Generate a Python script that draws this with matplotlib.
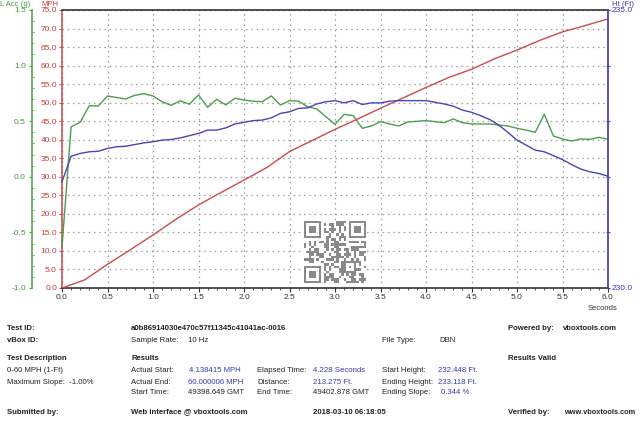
import hashlib
import numpy as np
import matplotlib
matplotlib.use("Agg")
import matplotlib.pyplot as plt
from matplotlib.ticker import MultipleLocator, FixedLocator, FixedFormatter

plt.rcParams['font.family'] = ['Liberation Sans', 'DejaVu Sans']

# ---------------- data ----------------
time_s = [round(0.1 * i, 1) for i in range(61)]

lat_acc_g = [-0.63, 0.45, 0.49, 0.64, 0.637, 0.727, 0.713, 0.70, 0.733, 0.747,
             0.727, 0.675, 0.643, 0.684, 0.652, 0.736, 0.625, 0.697, 0.646, 0.706,
             0.69, 0.68, 0.675, 0.727, 0.646, 0.684, 0.68, 0.63, 0.61, 0.54,
             0.472, 0.562, 0.55, 0.436, 0.457, 0.496, 0.475, 0.457, 0.493, 0.499,
             0.505, 0.496, 0.487, 0.52, 0.487, 0.475, 0.475, 0.475, 0.466, 0.457,
             0.436, 0.42, 0.40, 0.562, 0.367, 0.34, 0.322, 0.34, 0.337, 0.355,
             0.337]

height_ft = [231.91, 232.37, 232.42, 232.45, 232.46, 232.51, 232.54, 232.55, 232.58, 232.61,
             232.63, 232.66, 232.67, 232.70, 232.74, 232.78, 232.84, 232.84, 232.88, 232.95,
             232.98, 233.01, 233.02, 233.06, 233.14, 233.17, 233.23, 233.24, 233.31, 233.35,
             233.37, 233.33, 233.37, 233.30, 233.33, 233.33, 233.36, 233.37, 233.37, 233.37,
             233.37, 233.34, 233.31, 233.27, 233.20, 233.16, 233.10, 233.03, 232.93, 232.80,
             232.66, 232.57, 232.48, 232.45, 232.38, 232.31, 232.22, 232.14, 232.09, 232.06,
             232.01]

speed_time_s = [0.0, 0.25, 0.5, 0.75, 1.0, 1.25, 1.5, 1.75, 2.0, 2.25, 2.5, 2.75, 3.0,
                3.25, 3.5, 3.75, 4.0, 4.25, 4.5, 4.75, 5.0, 5.25, 5.5, 5.75, 6.0]
speed_mph = [0.0, 2.2, 6.4, 10.3, 14.3, 18.5, 22.4, 25.8, 29.1, 32.5, 36.8, 39.8, 42.8,
             45.6, 48.5, 51.3, 54.1, 56.8, 59.0, 61.8, 64.2, 66.8, 69.1, 70.8, 72.6]

x_ticks = [0.0, 0.5, 1.0, 1.5, 2.0, 2.5, 3.0, 3.5, 4.0, 4.5, 5.0, 5.5, 6.0]
mph_ticks = [0, 5, 10, 15, 20, 25, 30, 35, 40, 45, 50, 55, 60, 65, 70, 75]
acc_ticks = [-1.0, -0.5, 0.0, 0.5, 1.0, 1.5]
ht_ticks = [230, 231, 232, 233, 234, 235]
ht_labels = ['230.0', '', '', '', '', '235.0']

# ---------------- style ----------------
GREEN = '#4b9e4b'
GREEN_T = '#3f9a3f'
RED = '#cc4c4c'
RED_T = '#cc3a3a'
BLUE = '#4646b4'
BLUE_T = '#3b3bb0'
GRID = '#9a9a9a'
W, H = 640, 422
PT = 0.72  # points per pixel at 100 dpi

fig = plt.figure(figsize=(W / 100, H / 100), dpi=100)
fig.patch.set_facecolor('white')

def fx(x):
    return x / W

def fy(y):
    return 1 - y / H

L, R, T, B = 62, 608, 10, 288
ax = fig.add_axes([fx(L), fy(B), (R - L) / W, (B - T) / H])
ax.set_xlim(0, 6)
ax.set_ylim(0, 75)
ax.set_facecolor('none')

# grid
ax.xaxis.set_major_locator(FixedLocator(x_ticks))
ax.xaxis.set_minor_locator(MultipleLocator(0.1))
ax.yaxis.set_major_locator(FixedLocator(mph_ticks))
ax.yaxis.set_minor_locator(MultipleLocator(1))
ax.grid(True, which='major', color=GRID, linestyle=(0, (1.2, 3.0)), linewidth=0.9)
ax.set_xticklabels([f'{v:.1f}' for v in x_ticks])
ax.set_yticklabels([f'{v:.1f}' for v in mph_ticks])
ax.tick_params(axis='x', which='major', length=4 * PT, width=0.8, color='#333333',
               labelsize=6, labelcolor='#333333', pad=2 * PT)
ax.tick_params(axis='x', which='minor', length=2 * PT, width=0.6, color='#333333')
ax.tick_params(axis='y', which='major', length=3 * PT, width=0.8, color=RED,
               labelsize=6, labelcolor=RED_T, pad=2 * PT)
ax.tick_params(axis='y', which='minor', length=1.5 * PT, width=0.6, color=RED)
for s in ['top', 'bottom']:
    ax.spines[s].set_color('#222222')
    ax.spines[s].set_linewidth(1.1)
ax.spines['left'].set_color(RED)
ax.spines['left'].set_linestyle((0, (1, 1)))
ax.spines['left'].set_linewidth(1.1)
ax.spines['right'].set_visible(False)

# green lateral acceleration axis
axg = ax.twinx()
axg.set_ylim(-1.0, 1.5)
axg.yaxis.set_ticks_position('left')
axg.spines['left'].set_position(('outward', 30 * PT))
axg.spines['left'].set_visible(True)
axg.spines['left'].set_color(GREEN)
axg.spines['left'].set_linewidth(1.1)
for s in ['top', 'bottom', 'right']:
    axg.spines[s].set_visible(False)
axg.yaxis.set_major_locator(FixedLocator(acc_ticks))
axg.yaxis.set_minor_locator(MultipleLocator(0.1))
axg.set_yticklabels([f'{v:.1f}' for v in acc_ticks])
axg.tick_params(axis='y', which='major', length=3 * PT, width=0.8, color=GREEN,
                labelsize=6, labelcolor=GREEN_T, pad=3 * PT)
axg.tick_params(axis='y', which='minor', length=2 * PT, width=0.6, color=GREEN, direction='in')

# blue height axis
axh = ax.twinx()
axh.set_ylim(230, 235)
for s in ['top', 'bottom', 'left']:
    axh.spines[s].set_visible(False)
axh.spines['right'].set_color(BLUE)
axh.spines['right'].set_linewidth(1.3)
axh.yaxis.set_major_locator(FixedLocator(ht_ticks))
axh.yaxis.set_major_formatter(FixedFormatter(ht_labels))
axh.tick_params(axis='y', which='major', length=4 * PT, width=0.8, color=BLUE,
                labelsize=6, labelcolor=BLUE_T, pad=2 * PT, direction='inout')

# lines
axh.plot(time_s, height_ft, color=BLUE, linewidth=1.0, clip_on=False)
axg.plot(time_s, lat_acc_g, color=GREEN, linewidth=1.0, clip_on=False)
axg.plot(speed_time_s, [(v / 75) * 2.5 - 1.0 for v in speed_mph], color=RED, linewidth=1.0)

# axis titles
fig.text(fx(0.5), fy(4), 'L Acc (g)', color=GREEN_T, fontsize=5.5, ha='left', va='center')
fig.text(fx(58), fy(4), 'MPH', color=RED_T, fontsize=5.5, ha='right', va='center')
fig.text(fx(612), fy(4), 'Ht (Ft)', color=BLUE_T, fontsize=5.5, ha='left', va='center')
fig.text(fx(588), fy(308), 'Seconds', color='#333333', fontsize=5.5, ha='left', va='center')

# QR-like mark
n = 25
qr = np.zeros((n, n), dtype=int)
bits = ''.join(f'{b:08b}' for b in hashlib.sha256(b'a0b86914030e470c57f11345c41041ac-0016').digest() * 3)
k = 0
for i in range(n):
    for j in range(n):
        qr[i, j] = int(bits[k % len(bits)])
        k += 1
def finder(r, c):
    qr[r:r + 7, c:c + 7] = 1
    qr[r + 1:r + 6, c + 1:c + 6] = 0
    qr[r + 2:r + 5, c + 2:c + 5] = 1
for (r, c) in [(0, 0), (0, n - 7), (n - 7, 0)]:
    rr0, cc0 = max(r - 1, 0), max(c - 1, 0)
    qr[rr0:r + 8, cc0:c + 8] = 0
    finder(r, c)
qr[n - 9:n - 4, n - 9:n - 4] = 1
qr[n - 8:n - 5, n - 8:n - 5] = 0
qr[n - 7, n - 7] = 1
qax = fig.add_axes([fx(304), fy(283), 62 / W, 62 / H])
qax.imshow(qr, cmap=matplotlib.colors.ListedColormap(['white', '#8a8a8a']),
           interpolation='nearest')
qax.axis('off')

# ---------------- info table ----------------
FS = 5.6
DARK = '#222222'
INFO_BLUE = '#3a3aaa'

def t(x, y, s, bold=False, color=DARK, fs=FS):
    fig.text(fx(x), fy(y), s, fontsize=fs, color=color, ha='left', va='center',
             fontweight='bold' if bold else 'normal')

t(7, 329, 'Test ID:', True)
t(131, 329, 'a0b86914030e470c57f11345c41041ac-0016', True)
t(508, 329, 'Powered by:', True)
t(563, 329, 'vboxtools.com', True)

t(7, 341, 'vBox ID:', True)
t(131, 341, 'Sample Rate:')
t(188, 341, '10 Hz')
t(382, 341, 'File Type:')
t(439, 341, 'DBN')

t(7, 359, 'Test Description', True)
t(131, 359, 'Results', True)
t(508, 359, 'Results Valid', True)

t(7, 371, '0-60 MPH (1-Ft)')
t(131, 371, 'Actual Start:')
t(189, 371, '4.138415 MPH', color=INFO_BLUE)
t(257, 371, 'Elapsed Time:')
t(313, 371, '4.228 Seconds', color=INFO_BLUE)
t(382, 371, 'Start Height:')
t(438, 371, '232.448 Ft.', color=INFO_BLUE)

t(7, 382, 'Maximum Slope:  -1.00%')
t(131, 382, 'Actual End:')
t(188, 382, '60.000006 MPH', color=INFO_BLUE)
t(257, 382, 'Distance:')
t(313, 382, '213.275 Ft.', color=INFO_BLUE)
t(382, 382, 'Ending Height:')
t(438, 382, '233.118 Ft.', color=INFO_BLUE)

t(131, 393, 'Start Time:')
t(188, 393, '49398.649 GMT')
t(257, 393, 'End Time:')
t(313, 393, '49402.878 GMT')
t(382, 393, 'Ending Slope:')
t(441, 393, '0.344 %', color=INFO_BLUE)

t(7, 412, 'Submitted by:', True)
t(131, 412, 'Web interface @ vboxtools.com', True)
t(313, 412, '2018-03-10 06:18:05', True)
t(508, 412, 'Verified by:', True)
t(564, 412, 'www.vboxtools.com', True, fs=5.3)

fig.savefig('out.png', dpi=100, facecolor='white')
